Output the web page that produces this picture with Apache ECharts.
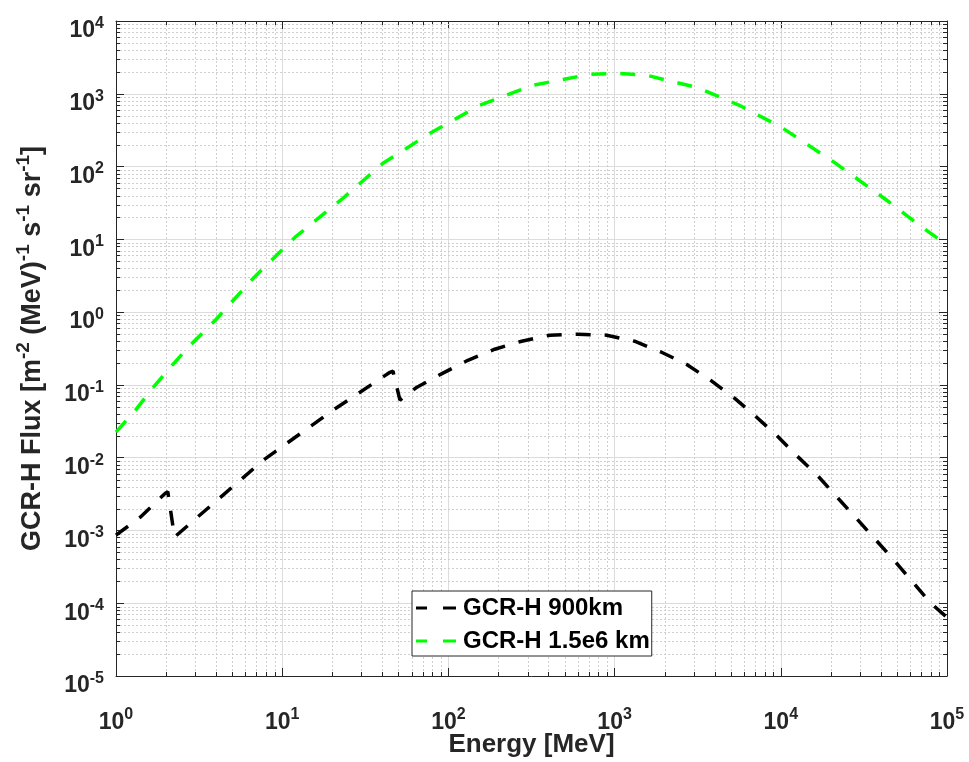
<!DOCTYPE html>
<html>
<head>
<meta charset="utf-8">
<script src="https://cdn.jsdelivr.net/npm/echarts@6/dist/echarts.min.js"></script>
<style>
html,body{margin:0;padding:0;background:#fff;}
#c{width:969px;height:762px;}
</style>
</head>
<body>
<div id="c"></div>
<script>
// Energy [MeV] and flux values
const energyNear = [1, 1.40, 1.98, 2.05, 2.25, 3.09, 7.69, 20.2, 44.5, 46.4, 51.1, 64.7, 92.7, 131, 190, 276, 407, 600, 896, 1319, 1916, 2704, 3773, 5180, 7030, 9400, 12390, 16560, 21530, 28380, 36900, 48000, 61500, 80000, 100000];
const fluxNear = [8.6e-4, 1.52e-3, 3.25e-3, 3.4e-3, 8.1e-4, 1.52e-3, 9.2e-3, 0.0449, 0.149, 0.154, 0.0617, 0.093, 0.145, 0.218, 0.309, 0.398, 0.482, 0.497, 0.482, 0.398, 0.281, 0.192, 0.116, 0.0678, 0.0372, 0.0204, 0.0108, 5.75e-3, 2.96e-3, 1.48e-3, 7.6e-4, 3.9e-4, 2.01e-4, 1.0e-4, 6.4e-5];
const energyFar = [1, 1.31, 1.68, 2.18, 2.80, 3.96, 6.79, 11.96, 23.2, 40.4, 77.5, 154.5, 322, 708, 1042, 1557, 3105, 5630, 10070, 20900, 41800, 65900, 100000];
const fluxFar = [0.0224, 0.0449, 0.0929, 0.187, 0.351, 0.774, 3.02, 10.7, 36.7, 111, 287, 695, 1309, 1853, 1914, 1795, 1228, 695, 347, 115, 36.7, 16.6, 8.3];
const seriesNames = ['GCR-H 900km', 'GCR-H 1.5e6 km'];
const seriesColors = ['#000000', '#00ff00'];
const xTitle = 'Energy [MeV]';
// minor (2..9 per decade) tick positions of the log axes
const xDecades = [0, 1, 2, 3, 4];
const yDecades = [-5, -4, -3, -2, -1, 0, 1, 2, 3];
const minorMults = [2, 3, 4, 5, 6, 7, 8, 9];

const FONT = '"Liberation Sans", Arial, Helvetica, sans-serif';
const TXT = '#262626';
const AX = '#262626';

function zip(a, b) { return a.map((v, i) => [v, b[i]]); }
function minorValues(decades) {
  const out = [];
  decades.forEach(d => minorMults.forEach(m => out.push(+(m * Math.pow(10, d)).toPrecision(6))));
  return out;
}
const xMinor = minorValues(xDecades);
const yMinor = minorValues(yDecades);

function powLabel(v) {
  const e = Math.round(Math.log10(v));
  return '{b|10}{s|' + e + '}';
}
const labelRich = {
  b: { fontSize: 23, fontWeight: 'bold', fontFamily: FONT, color: TXT, verticalAlign: 'bottom', lineHeight: 24 },
  s: { fontSize: 16, fontWeight: 'bold', fontFamily: FONT, color: TXT, verticalAlign: 'bottom', padding: [0, 0, 11, 0] }
};
const axisLineStyle = { color: AX, width: 1 };

function mkAxis(isX, main) {
  return {
    type: 'log',
    logBase: 10,
    min: isX ? 1 : 1e-5,
    max: isX ? 1e5 : 1e4,
    interval: 1,
    position: isX ? (main ? 'bottom' : 'top') : (main ? 'left' : 'right'),
    axisLine: { show: true, onZero: false, lineStyle: axisLineStyle },
    axisTick: { show: true, inside: true, length: 8, lineStyle: axisLineStyle },
    minorTick: { show: false },
    axisLabel: main ? (isX ? {
      show: true, formatter: powLabel, rich: labelRich, margin: 31
    } : {
      show: true, formatter: powLabel, rich: labelRich, margin: 12, padding: [16, 0, 0, 0]
    }) : { show: false },
    splitLine: { show: main, lineStyle: { color: '#dcdcdc', width: 1 } },
    minorSplitLine: { show: false }
  };
}

const xMain = mkAxis(true, true);
xMain.name = xTitle;
xMain.nameLocation = 'middle';
xMain.nameGap = 54;
xMain.nameMoveOverlap = false;
xMain.nameTextStyle = { fontSize: 26, fontWeight: 'bold', fontFamily: FONT, color: TXT, verticalAlign: 'top', lineHeight: 30 };

const yMain = mkAxis(false, true);
yMain.name = '{a|GCR-H Flux [m}{s|-2}{a| (MeV)}{s|-1}{a| s}{s|-1}{a| sr}{s|-1}{a|]}';
yMain.nameLocation = 'middle';
yMain.nameGap = 70;
yMain.nameMoveOverlap = false;
yMain.nameTextStyle = {
  rich: {
    a: { fontSize: 27, fontWeight: 'bold', fontFamily: FONT, color: TXT, verticalAlign: 'bottom', lineHeight: 29 },
    s: { fontSize: 19, fontWeight: 'bold', fontFamily: FONT, color: TXT, verticalAlign: 'bottom', padding: [0, 0, 13, 0] }
  }
};

function minorRender(isX) {
  return function (params, api) {
    const cs = params.coordSys;
    const v = api.value(isX ? 0 : 1);
    const p = api.coord(isX ? [v, 1] : [1, v]);
    const grid = { stroke: '#cfcfcf', lineWidth: 1, lineDash: [2, 2] };
    const tick = { stroke: AX, lineWidth: 1 };
    if (isX) {
      const x = Math.round(p[0]) + 0.5;
      const y0 = cs.y, y1 = cs.y + cs.height;
      return { type: 'group', children: [
        { type: 'line', shape: { x1: x, y1: y0, x2: x, y2: y1 }, style: grid },
        { type: 'line', shape: { x1: x, y1: y1, x2: x, y2: y1 - 4 }, style: tick },
        { type: 'line', shape: { x1: x, y1: y0, x2: x, y2: y0 + 4 }, style: tick }
      ] };
    }
    const y = Math.round(p[1]) + 0.5;
    const x0 = cs.x, x1 = cs.x + cs.width;
    return { type: 'group', children: [
      { type: 'line', shape: { x1: x0, y1: y, x2: x1, y2: y }, style: grid },
      { type: 'line', shape: { x1: x0, y1: y, x2: x0 + 4, y2: y }, style: tick },
      { type: 'line', shape: { x1: x1, y1: y, x2: x1 - 4, y2: y }, style: tick }
    ] };
  };
}

const chart = echarts.init(document.getElementById('c'), null, { renderer: 'canvas' });
chart.setOption({
  animation: false,
  backgroundColor: '#ffffff',
  grid: { left: 116, right: 22, top: 21, bottom: 86, containLabel: false, outerBoundsMode: 'none' },
  xAxis: [xMain, mkAxis(true, false)],
  yAxis: [yMain, mkAxis(false, false)],
  legend: {
    orient: 'vertical',
    left: 412,
    top: 591,
    padding: [5, 2, 3, 4],
    itemGap: 9,
    itemWidth: 40,
    itemHeight: 3,
    icon: 'path://M0,0h11v3h-11zM27,0h13v3h-13z',
    backgroundColor: '#ffffff',
    borderColor: AX,
    borderWidth: 1,
    borderRadius: 0,
    textStyle: { fontSize: 24, fontWeight: 'bold', fontFamily: FONT, color: '#000', lineHeight: 24, padding: [0, 0, 0, 2] },
    data: seriesNames
  },
  series: [
    {
      name: 'xminor', type: 'custom', silent: true, z: 1,
      xAxisIndex: 0, yAxisIndex: 0,
      data: xMinor.map(v => [v, 1]),
      renderItem: minorRender(true)
    },
    {
      name: 'yminor', type: 'custom', silent: true, z: 1,
      xAxisIndex: 0, yAxisIndex: 0,
      data: yMinor.map(v => [1, v]),
      renderItem: minorRender(false)
    },
    {
      name: seriesNames[0], type: 'line', showSymbol: false, symbol: 'none',
      xAxisIndex: 0, yAxisIndex: 0,
      data: zip(energyNear, fluxNear),
      lineStyle: { color: seriesColors[0], width: 3.5, type: [15, 14] },
      itemStyle: { color: seriesColors[0] }, z: 3
    },
    {
      name: seriesNames[1], type: 'line', showSymbol: false, symbol: 'none',
      xAxisIndex: 0, yAxisIndex: 0,
      data: zip(energyFar, fluxFar),
      lineStyle: { color: seriesColors[1], width: 3.5, type: [15, 14] },
      itemStyle: { color: seriesColors[1] }, z: 3
    }
  ]
});
</script>
</body>
</html>
